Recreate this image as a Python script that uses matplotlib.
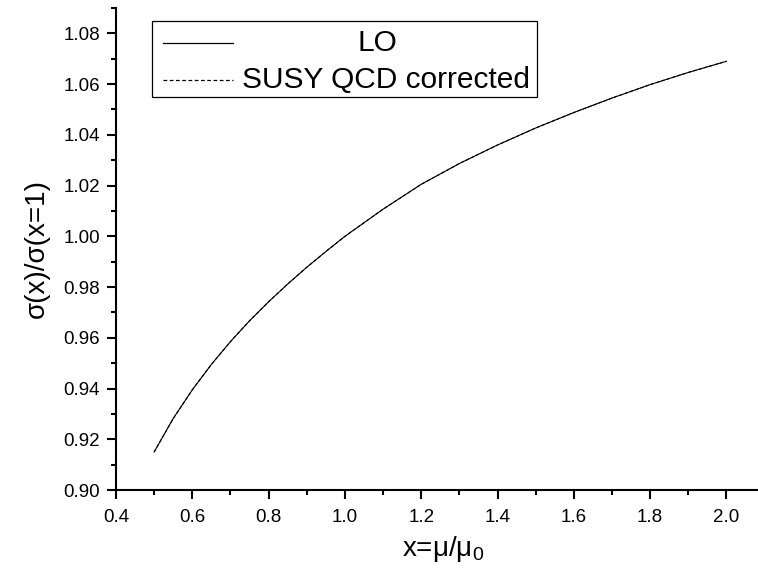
import matplotlib
matplotlib.use('Agg')
import matplotlib.pyplot as plt
from matplotlib.lines import Line2D
from matplotlib.patches import Rectangle
from matplotlib.ticker import MultipleLocator, FormatStrFormatter

plt.rcParams['font.family'] = ['Liberation Sans', 'DejaVu Sans']
plt.rcParams['mathtext.fontset'] = 'custom'
plt.rcParams['mathtext.rm'] = 'Liberation Sans'
plt.rcParams['mathtext.it'] = 'Liberation Sans'
plt.rcParams['mathtext.default'] = 'regular'

# scale ratio x = mu/mu0 and normalized cross sections
x = [0.5, 0.55, 0.6, 0.65, 0.7, 0.75, 0.8, 0.85, 0.9, 0.95, 1.0,
     1.1, 1.2, 1.3, 1.4, 1.5, 1.6, 1.7, 1.8, 1.9, 2.0]
lo = [0.9150, 0.9282, 0.9395, 0.9495, 0.9585, 0.9667, 0.9742, 0.9812, 0.9878, 0.9940, 1.0000,
      1.0107, 1.0205, 1.0287, 1.0360, 1.0427, 1.0488, 1.0545, 1.0598, 1.0646, 1.0690]
susy = [0.9150, 0.9282, 0.9395, 0.9495, 0.9585, 0.9667, 0.9742, 0.9812, 0.9878, 0.9940, 1.0000,
        1.0107, 1.0205, 1.0287, 1.0360, 1.0427, 1.0488, 1.0545, 1.0598, 1.0646, 1.0690]
labels = ['LO', 'SUSY QCD corrected']

fig = plt.figure(figsize=(7.58, 5.78), dpi=100)
ax = fig.add_axes([116 / 758, 88 / 578, (757 - 116) / 758, (490 - 8) / 578])

ax.plot(x, lo, color='black', lw=0.8)
ax.plot(x, susy, color='black', lw=0.8, ls=(0, (3, 2)))

ax.set_xlim(0.4, 2.08)
ax.set_ylim(0.90, 1.09)
ax.xaxis.set_major_locator(MultipleLocator(0.2))
ax.xaxis.set_minor_locator(MultipleLocator(0.1))
ax.yaxis.set_major_locator(MultipleLocator(0.02))
ax.yaxis.set_minor_locator(MultipleLocator(0.01))
ax.xaxis.set_major_formatter(FormatStrFormatter('%.1f'))
ax.yaxis.set_major_formatter(FormatStrFormatter('%.2f'))

for s in ['top', 'right']:
    ax.spines[s].set_visible(False)
for s in ['left', 'bottom']:
    ax.spines[s].set_linewidth(1.5)
ax.tick_params(which='major', direction='out', length=6.5, width=1.5, labelsize=13.5)
ax.tick_params(which='minor', direction='out', length=3.5, width=1.5)
ax.tick_params(axis='x', which='major', pad=7)
ax.tick_params(axis='y', which='major', pad=5)

ax.set_xlabel(r'x=$\mu$/$\mu_0$', fontsize=20, labelpad=6)
ax.xaxis.label.set_x(0.51)
ax.set_ylabel('σ(x)/σ(x=1)', fontsize=20, labelpad=10)

# legend box drawn Origin style: centred labels
tr = ax.transAxes
ax.add_patch(Rectangle((0.0562, 0.815), 0.6, 0.158, transform=tr, fill=False,
                       lw=0.9, edgecolor='black', clip_on=False))
ax.add_line(Line2D([0.073, 0.182], [0.928, 0.928], transform=tr, color='black', lw=0.9))
ax.add_line(Line2D([0.073, 0.182], [0.851, 0.851], transform=tr, color='black', lw=0.9,
                   ls=(0, (3, 2))))
ax.text(0.4075, 0.928, labels[0], transform=tr, fontsize=21.5, ha='center', va='center')
ax.text(0.421, 0.851, labels[1], transform=tr, fontsize=21.5, ha='center', va='center')

fig.savefig('out.png', dpi=100)
